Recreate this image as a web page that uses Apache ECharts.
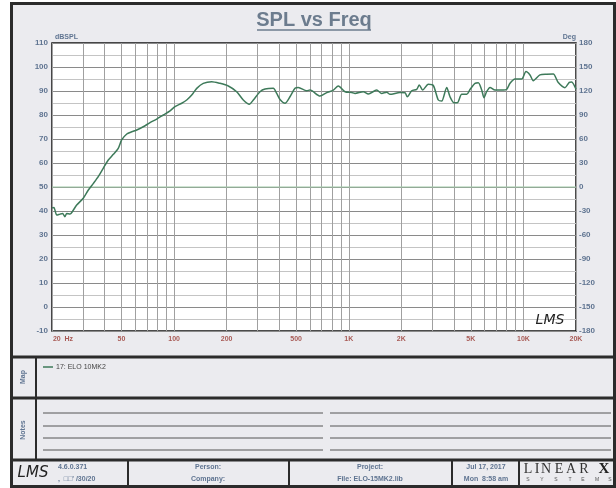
<!DOCTYPE html>
<html><head><meta charset="utf-8">
<script src="https://cdn.jsdelivr.net/npm/echarts@6/dist/echarts.min.js"></script>
<style>html,body{margin:0;padding:0;background:#fff}#c{width:616px;height:488px}</style>
</head><body><div id="c"></div>
<script>
// ---- data ----
const freqHz = [20, 20.5, 21.3, 22.2, 23.0, 23.7, 24.3, 25.4, 26.3, 27.7, 30.2, 32.3, 34.5, 36.8, 39.3, 42.0, 44.9, 47.9, 50.1, 53.6, 57.2, 61.1, 66.6, 72.8, 79.5, 86.8, 94.8, 101.2, 110.6, 118.1, 126.2, 134.8, 146.9, 164.2, 183.1, 204.4, 228.2, 249, 269.6, 284.2, 310.4, 331.6, 369.8, 386.7, 404, 431.6, 460.9, 492.3, 514.2, 574.2, 600, 684.5, 747.7, 815.8, 871.3, 952, 1040, 1086, 1211, 1294, 1445, 1544, 1649, 1723, 1965, 2099, 2163, 2293, 2449, 2534, 2651, 2854, 3048, 3256, 3405, 3637, 3799, 4005, 4183, 4432, 4734, 4945, 5282, 5517, 5771, 5949, 6164, 6439, 6876, 7674, 8025, 8382, 8951, 9778, 10344, 10904, 11389, 12439, 13592, 14826, 15834, 17300, 18300, 18890, 20000];
const splDb = [41.3, 41.5, 38.3, 38.7, 39.0, 37.6, 39.0, 38.7, 40.0, 42.5, 45.3, 48.75, 51.5, 54.3, 57.8, 61.25, 63.6, 66.1, 69.6, 72.1, 73.0, 73.75, 75.1, 76.8, 78.3, 80.0, 81.7, 83.5, 84.9, 86.25, 88.3, 91.1, 93.2, 93.9, 93.2, 92.1, 89.7, 86.25, 84.5, 86.25, 89.7, 90.8, 91.1, 89.0, 86.5, 84.9, 87.6, 91.1, 91.5, 90.1, 90.4, 87.9, 89.3, 90.4, 92.1, 89.7, 89.4, 89.0, 89.7, 88.75, 90.4, 89.0, 89.5, 88.6, 89.4, 89.3, 87.6, 90.1, 90.7, 92.5, 90.4, 92.8, 92.3, 86.25, 85.8, 91.5, 87.6, 85.1, 85.1, 88.6, 88.6, 90.6, 93.2, 93.4, 90.4, 87.2, 89.8, 91.5, 90.4, 90.4, 90.7, 93.2, 95.0, 95.0, 98.1, 96.7, 94.3, 96.7, 97.0, 97.1, 93.5, 91.4, 93.6, 93.8, 90.7];
const phaseFreq = [20, 20000];
const phaseDeg = [0, 0];
const xLabelValues = [20, 50, 100, 200, 500, 1000, 2000, 5000, 10000, 20000];
const xLabelTexts = ['20 Hz', '50', '100', '200', '500', '1K', '2K', '5K', '10K', '20K'];
const xGridValues = [20, 30, 40, 50, 60, 70, 80, 90, 100, 200, 300, 400, 500, 600, 700, 800, 900, 1000, 2000, 3000, 4000, 5000, 6000, 7000, 8000, 9000, 10000, 20000];
const seriesName = '17: ELO 10MK2';

// ---- chart ----
const chart = echarts.init(document.getElementById('c'), null, {renderer: 'canvas'});
const FONT = 'Liberation Sans, Arial, sans-serif';
const BLUE = '#5f7491';
const lab = {color: BLUE, fontFamily: FONT, fontWeight: 'bold', fontSize: 8};

const labelMap = {};
xLabelValues.forEach((v, i) => labelMap[v] = xLabelTexts[i]);

const g = [];
// white margin outside frame
g.push({type: 'rect', shape: {x: 0, y: 0, width: 10, height: 488}, style: {fill: '#fff'}});
g.push({type: 'rect', shape: {x: 0, y: 0, width: 616, height: 2}, style: {fill: '#fff'}});
// outer frame
g.push({type: 'rect', shape: {x: 11.5, y: 3.5, width: 603, height: 483}, style: {fill: 'none', stroke: '#2b2b2b', lineWidth: 3}});
// section lines
[357, 398, 460].forEach(y => g.push({type: 'line', shape: {x1: 11, y1: y, x2: 616, y2: y}, style: {stroke: '#2b2b2b', lineWidth: 3}}));
g.push({type: 'line', shape: {x1: 36, y1: 357, x2: 36, y2: 460}, style: {stroke: '#2b2b2b', lineWidth: 2}});
[128, 289, 452, 519].forEach(x => g.push({type: 'line', shape: {x1: x, y1: 460, x2: x, y2: 487}, style: {stroke: '#2b2b2b', lineWidth: 2}}));
// notes lines
[413, 426, 438, 450].forEach(y => {
  g.push({type: 'line', shape: {x1: 43, y1: y, x2: 323, y2: y}, style: {stroke: '#555', lineWidth: 1}});
  g.push({type: 'line', shape: {x1: 330, y1: y, x2: 611, y2: y}, style: {stroke: '#555', lineWidth: 1}});
});
// title
g.push({type: 'text', x: 314, y: 20, style: {text: 'SPL vs Freq', fill: '#6c7c8e', font: 'bold 20px ' + FONT, textAlign: 'center', textVerticalAlign: 'middle'}});
g.push({type: 'line', shape: {x1: 257, y1: 30, x2: 371, y2: 30}, style: {stroke: '#6c7c8e', lineWidth: 1.5}});
// axis names
g.push({type: 'text', x: 55, y: 37, style: {text: 'dBSPL', fill: BLUE, font: 'bold 7px ' + FONT, textVerticalAlign: 'middle'}});
g.push({type: 'text', x: 576, y: 37, style: {text: 'Deg', fill: BLUE, font: 'bold 7px ' + FONT, textAlign: 'right', textVerticalAlign: 'middle'}});
// LMS signature in plot
g.push({type: 'text', x: 550, y: 320, z: 100, style: {text: 'LMS', fill: '#222', font: 'italic 14px DejaVu Sans, sans-serif', textAlign: 'center', textVerticalAlign: 'middle'}});
// section labels
g.push({type: 'text', x: 23, y: 377, rotation: Math.PI / 2, style: {text: 'Map', fill: BLUE, font: 'bold 7px ' + FONT, textAlign: 'center', textVerticalAlign: 'middle'}});
g.push({type: 'text', x: 23, y: 430, rotation: Math.PI / 2, style: {text: 'Notes', fill: BLUE, font: 'bold 7px ' + FONT, textAlign: 'center', textVerticalAlign: 'middle'}});
// legend
g.push({type: 'line', shape: {x1: 43, y1: 367, x2: 53, y2: 367}, style: {stroke: '#3e7a5a', lineWidth: 1.5}});
g.push({type: 'text', x: 56, y: 367, style: {text: seriesName, fill: '#444', font: '7px ' + FONT, textVerticalAlign: 'middle'}});
// footer
const ft = (x, y, t, align) => g.push({type: 'text', x: x, y: y, style: {text: t, fill: BLUE, font: 'bold 7px ' + FONT, textAlign: align || 'center', textVerticalAlign: 'middle'}});
g.push({type: 'text', x: 33, y: 473, style: {text: 'LMS', fill: '#222', font: 'italic 15px DejaVu Sans, sans-serif', textAlign: 'center', textVerticalAlign: 'middle'}});
ft(58, 467, '4.6.0.371', 'left');
ft(58, 479, ',  \u25A1\u25A1\' /30/20', 'left');
ft(208, 467, 'Person:');
ft(208, 479, 'Company:');
ft(370, 467, 'Project:');
ft(370, 479, 'File: ELO-15MK2.lib');
ft(486, 467, 'Jul 17, 2017');
ft(486, 479, 'Mon  8:58 am');
const lx = [528, 537, 546, 559, 571, 584];
'LINEAR'.split('').forEach((c, i) => g.push({type: 'text', x: lx[i], y: 469, style: {text: c, fill: '#333', font: '14px Liberation Serif, serif', textAlign: 'center', textVerticalAlign: 'middle'}}));
g.push({type: 'text', x: 604, y: 469, style: {text: 'X', fill: '#222', font: 'bold 15px Liberation Serif, serif', textAlign: 'center', textVerticalAlign: 'middle'}});
const sx = [528, 542, 556, 570, 583, 597, 610];
'SYSTEMS'.split('').forEach((c, i) => g.push({type: 'text', x: sx[i], y: 480, style: {text: c, fill: '#555', font: '5px ' + FONT, textAlign: 'center', textVerticalAlign: 'middle'}}));

const option = {
  backgroundColor: '#ebebef',
  animation: false,
  grid: {left: 52, top: 43, width: 524, height: 288, show: true, backgroundColor: '#fff', borderColor: '#111', borderWidth: 1.5},
  xAxis: {
    type: 'log', logBase: 10, min: 20, max: 20000,
    axisLine: {show: false},
    axisTick: {show: true, length: 0, customValues: xGridValues, lineStyle: {color: 'transparent'}},
    splitLine: {show: true, lineStyle: {color: '#a0a0a0', width: 1}},
    minorTick: {show: false}, minorSplitLine: {show: false},
    axisLabel: {customValues: xLabelValues, color: '#a85a55', fontFamily: FONT, fontWeight: 'bold', fontSize: 7, margin: 5,
      formatter: v => labelMap[Math.round(v)] !== undefined ? (Math.round(v) === 20 ? '{a|20  Hz}' : labelMap[Math.round(v)]) : '',
      rich: {a: {color: '#a85a55', fontFamily: FONT, fontWeight: 'bold', fontSize: 7, padding: [0, 0, 0, 22]}}}
  },
  yAxis: [{
    type: 'value', min: -10, max: 110, interval: 10,
    axisLine: {show: false}, axisTick: {show: false},
    axisLabel: Object.assign({margin: 4}, lab),
    splitLine: {show: true, lineStyle: {color: '#8a8a8a', width: 1}},
    minorTick: {show: false, splitNumber: 2},
    minorSplitLine: {show: true, lineStyle: {color: '#c4c4c4', width: 1}}
  }, {
    type: 'value', min: -180, max: 180, interval: 30, position: 'right',
    axisLine: {show: false}, axisTick: {show: false}, splitLine: {show: false},
    axisLabel: Object.assign({margin: 3}, lab)
  }],
  series: [{
    name: 'phase', type: 'line', yAxisIndex: 1, symbol: 'none', silent: true,
    data: phaseFreq.map((f, i) => [f, phaseDeg[i]]),
    lineStyle: {color: '#9cc8a4', width: 1}
  }, {
    name: seriesName, type: 'line', symbol: 'none', smooth: 0.25,
    data: freqHz.map((f, i) => [f, splDb[i]]),
    lineStyle: {color: '#3e7a5a', width: 1.5}
  }],
  graphic: {elements: g}
};
chart.setOption(option);
</script></body></html>
